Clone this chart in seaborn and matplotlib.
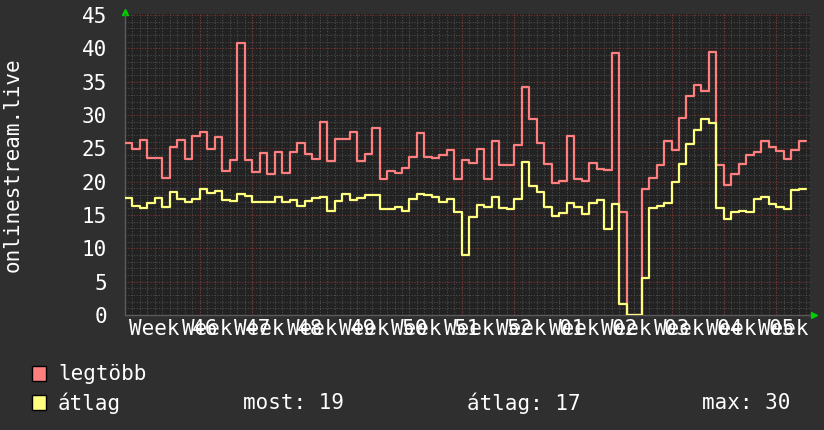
import matplotlib
matplotlib.use("Agg")
import matplotlib.pyplot as plt
from matplotlib.patches import Rectangle
from matplotlib.transforms import Bbox
import seaborn as sns

# daily values
legtobb = [25.85, 24.9, 26.25, 23.5, 23.6, 20.5, 25.25, 26.25, 23.4, 26.85,
           27.45, 24.9, 26.75, 21.6, 23.25, 40.85, 23.25, 21.4, 24.35, 21.2,
           24.45, 21.35, 24.5, 25.85, 24.1, 23.45, 28.95, 23.1, 26.45, 26.45,
           27.45, 23.1, 24.2, 28.1, 20.4, 21.65, 21.35, 22.05, 23.75, 27.3,
           23.75, 23.6, 24.05, 24.8, 20.4, 23.25, 22.85, 24.9, 20.4, 26.1,
           22.55, 22.55, 25.55, 34.15, 29.35, 25.8, 22.7, 19.85, 20.15, 26.9,
           20.4, 20.15, 22.8, 21.95, 21.75, 39.35, 15.5, 0.0, 0.0, 18.9,
           20.6, 22.55, 26.15, 24.7, 29.5, 32.85, 34.55, 33.65, 39.5, 22.45,
           19.5, 21.2, 22.65, 24.05, 24.5, 26.1, 25.25, 24.6, 23.35, 24.8,
           26.1]
atlag = [17.5, 16.4, 16.1, 16.85, 17.5, 16.25, 18.4, 17.35, 16.9, 17.45,
         18.85, 18.35, 18.6, 17.25, 17.05, 18.15, 17.85, 16.9, 16.95, 16.95,
         17.7, 17.0, 17.25, 16.4, 17.1, 17.55, 17.75, 15.65, 17.05, 18.15,
         17.25, 17.55, 18.0, 18.0, 15.95, 15.95, 16.25, 15.6, 17.4, 18.15,
         18.0, 17.7, 16.95, 17.4, 15.4, 9.0, 14.7, 16.5, 16.2, 17.7,
         16.05, 15.9, 17.45, 22.95, 19.4, 18.4, 16.2, 14.9, 15.25, 16.85,
         16.25, 15.15, 16.85, 17.3, 12.9, 16.7, 1.6, 0.0, 0.0, 5.6,
         16.05, 16.35, 16.85, 20.0, 22.65, 25.7, 27.75, 29.45, 28.75, 16.0,
         14.45, 15.4, 15.65, 15.5, 17.45, 17.75, 16.6, 16.25, 15.9, 18.7,
         18.85]
weeks = ["46", "47", "48", "49", "50", "51", "52", "01", "02", "03", "04", "05", "06"]
week_start = [3 + 7 * i for i in range(len(weeks))]
stats = ["most: 19", "átlag: 17", "max: 30"]

BG = "#2f2f2f"
PLOT_BG = "#222222"
RED = "#ff7f7f"
YEL = "#ffff7f"

sns.set_theme(style="dark")
plt.rcParams["font.family"] = ["DejaVu Sans Mono", "DejaVu Sans"]
plt.rcParams["text.color"] = "white"

fig = plt.figure(figsize=(8.24, 4.30), dpi=100, facecolor=BG)
ax = fig.add_axes([125 / 824, 115 / 430, 685 / 824, 301 / 430])
ax.set_facecolor(PLOT_BG)

days = list(range(len(legtobb) + 1))
sns.lineplot(x=days, y=legtobb + legtobb[-1:], ax=ax, color=RED, linewidth=1.6,
             drawstyle="steps-post", estimator=None, zorder=4)
sns.lineplot(x=days, y=atlag + atlag[-1:], ax=ax, color=YEL, linewidth=1.6,
             drawstyle="steps-post", estimator=None, zorder=5)

ax.set_xlim(0, 91.5)
ax.set_ylim(0, 45.15)

# grid: daily / 1 unit minor, weekly / 5 unit major
ax.set_xticks(range(0, 92), minor=True)
ax.set_yticks(range(0, 46), minor=True)
ax.set_yticks(range(0, 46, 5))
ax.grid(which="minor", color="#4c4c4c", linestyle=(0, (1, 1.5)), linewidth=0.8)
ax.grid(axis="y", which="major", color="#7d3535", linestyle=(0, (1, 1.5)), linewidth=0.8)
for w in week_start:
    ax.axvline(w, color="#7d3535", linestyle=(0, (1, 1.5)), linewidth=0.8, zorder=1)

# week labels centred inside each week
ax.set_xticks([w + 3.5 for w in week_start])
ax.set_xticklabels(["Week " + n for n in weeks])
ax.grid(axis="x", which="major", visible=False)

ax.tick_params(axis="both", which="both", length=0, colors="white", labelsize=15)
ax.tick_params(axis="y", pad=13)
ax.tick_params(axis="x", pad=3)

# the last label runs off the right edge of the image
edge = Bbox.from_extents(0, 0, 819, 430)
for lab in ax.get_xticklabels():
    lab.set_clip_box(edge)
    lab.set_clip_on(True)

for s in ["top", "right"]:
    ax.spines[s].set_visible(False)
for s in ["left", "bottom"]:
    ax.spines[s].set_color("#5a5a5a")
    ax.spines[s].set_linewidth(1)

# axis arrows
ax.plot([0], [1.005], marker="^", color="#00d000", markersize=5, transform=ax.transAxes, clip_on=False)
ax.plot([1.006], [0], marker=">", color="#00d000", markersize=5, transform=ax.transAxes, clip_on=False)

fig.text(13 / 824, 1 - 165 / 430, "onlinestream.live", rotation=90, ha="center", va="center", fontsize=15)

# legend
fig.patches.append(Rectangle((32 / 824, 49 / 430), 14 / 824, 15 / 430, transform=fig.transFigure,
                             facecolor=RED, edgecolor="black", linewidth=1))
fig.patches.append(Rectangle((32 / 824, 20 / 430), 14 / 824, 15 / 430, transform=fig.transFigure,
                             facecolor=YEL, edgecolor="black", linewidth=1))
fig.text(58 / 824, 1 - 374 / 430, "legtöbb", ha="left", va="center", fontsize=15)
fig.text(58 / 824, 1 - 403 / 430, "átlag", ha="left", va="center", fontsize=15)
for x, s in zip([243, 467, 702], stats):
    fig.text(x / 824, 1 - 403 / 430, s, ha="left", va="center", fontsize=15)

fig.savefig("out.png", dpi=100, facecolor=BG)
